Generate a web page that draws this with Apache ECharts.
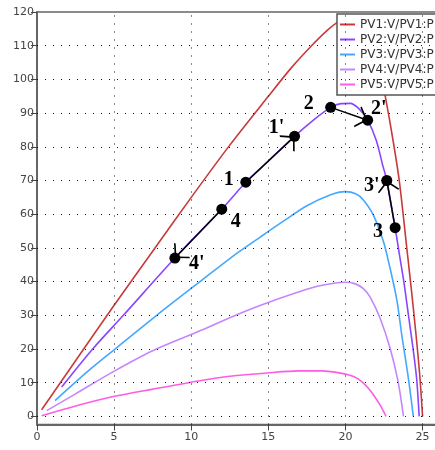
<!DOCTYPE html>
<html>
<head>
<meta charset="utf-8">
<script src="https://cdn.jsdelivr.net/npm/echarts@6/dist/echarts.min.js"></script>
<style>html,body{margin:0;padding:0;background:#fff;overflow:hidden}#c{width:470px;height:450px}</style>
</head>
<body>
<div id="c"></div>
<script>
// ---- data ----
const seriesNames = ['PV1:V/PV1:P', 'PV2:V/PV2:P', 'PV3:V/PV3:P', 'PV4:V/PV4:P', 'PV5:V/PV5:P'];
const xTicks = [0, 5, 10, 15, 20, 25];
const yTicks = [0, 10, 20, 30, 40, 50, 60, 70, 80, 90, 100, 110, 120];
const xGrid = [5, 10, 15, 20, 25];
const yGrid = [0, 10, 20, 30, 40, 50, 60, 70, 80, 90, 100, 110];

const pv1 = [[0.3,2.0],[2.5,16.5],[5.0,33.0],[7.5,49.0],[10.0,65.0],[12.5,80.5],[15.0,95.0],[16.5,103.5],[17.8,110.0],[18.8,114.5],[19.6,117.3],[20.4,118.8],[21.1,117.5],[21.7,112.0],[22.2,103.5],[22.6,94.5],[23.1,81.5],[23.5,69.5],[24.0,49.0],[24.3,36.5],[24.58,24.0],[24.82,12.0],[25.0,0]];
const pv2 = [[1.6,8.7],[3.61,20],[5.6,30],[8.94,47],[11.98,61.5],[13.54,69.5],[15.0,75.8],[16.7,83.1],[18.0,88.2],[19.04,91.7],[19.7,92.8],[20.3,92.9],[20.9,91.2],[21.44,87.9],[22.0,81.9],[22.4,74.8],[22.68,70],[23.22,56],[23.5,48],[23.8,39.5],[24.1,29.5],[24.4,19.5],[24.62,11],[24.78,0]];
const pv3 = [[1.17,4.7],[3.4,13.8],[5.06,20],[7.76,30],[10.57,40],[12.93,48.3],[14.5,53.3],[16.0,58],[17.5,62.5],[19.0,65.7],[19.97,66.7],[20.7,66.0],[21.16,64.2],[21.8,59.8],[22.46,51.9],[22.89,44.0],[23.33,34.6],[23.65,24.2],[24.08,11.3],[24.4,0]];
const pv4 = [[0.63,1.7],[2.5,6.7],[4.95,13.3],[7.5,19.5],[10.57,25.4],[12.5,29.3],[14.5,33],[17.0,37],[18.5,38.9],[19.97,39.8],[20.6,39.4],[21.14,38.0],[21.6,35.4],[22.24,29.2],[22.89,20.3],[23.41,10.4],[23.76,0]];
const pv5 = [[0.3,0.2],[2.5,3.1],[4.95,5.9],[7.5,8.1],[10.57,10.6],[12.5,11.9],[14.9,12.9],[17.0,13.5],[18.5,13.5],[19.5,13.0],[20.3,12.2],[20.8,11.2],[21.16,9.9],[21.5,8.3],[21.8,6.5],[22.24,3.4],[22.63,0]];

const markerNames = ["1", "1'", "2", "2'", "3", "3'", "4", "4'"];
const markerPoints = [[13.54,69.5],[16.7,83.1],[19.04,91.7],[21.44,87.9],[23.22,56.0],[22.68,70.0],[11.98,61.5],[8.94,47.0]];
const arrowPairs = [["1","1'"],["2","2'"],["3","3'"],["4","4'"]];

// ---- styling (kept apart from data) ----
const colors = ['#c83a3a', '#8a46ff', '#44a8ff', '#c486ff', '#ff5ce4'];
const labelOffsets = {"1":[-17,-2], "1'":[-18,-9], "2":[-22,-4], "2'":[11,-11], "3":[-17,4], "3'":[-15,5], "4":[14,13], "4'":[22,6]};
const chevron = 'path://M8,11 L16,21.2 L14.9,22.06 L8,13.25 L1.1,22.06 L0,21.2 Z M8,-0.06 L8.05,-0.06 L8,0 Z';

const allCurves = [pv1, pv2, pv3, pv4, pv5];
const ptByName = {};
markerNames.forEach((n, i) => ptByName[n] = markerPoints[i]);

const axisFont = {fontFamily: 'DejaVu Sans', fontSize: 11, color: '#444'};
const dotted = {color: '#111', width: 1, type: [1, 7]};

const series = [];
// dotted grid, drawn through the axes' scales
series.push({
  type: 'line', data: [], z: 1, silent: true,
  markLine: {
    silent: true, symbol: ['none', 'none'], label: {show: false},
    lineStyle: dotted, emphasis: {disabled: true},
    data: yGrid.map(v => ({yAxis: v})).concat(xGrid.map(v => ({xAxis: v})))
  }
});

allCurves.forEach((d, i) => series.push({
  name: seriesNames[i], type: 'line', data: d, showSymbol: false, symbol: 'none',
  smooth: 0.3, lineStyle: {color: colors[i], width: 1.6},
  itemStyle: {color: colors[i]}, z: 2
}));

series.push({
  type: 'lines', coordinateSystem: 'cartesian2d', z: 4,
  symbol: ['none', chevron], symbolSize: [16, 22.12], symbolKeepAspect: true,
  lineStyle: {color: '#000', width: 1.5, opacity: 1, curveness: 0},
  itemStyle: {color: '#000'},
  data: arrowPairs.map(p => ({coords: [ptByName[p[0]], ptByName[p[1]]]}))
});

series.push({
  type: 'scatter', z: 5, symbol: 'circle', symbolSize: 11,
  itemStyle: {color: '#000', opacity: 1},
  data: markerNames.map((n, i) => ({
    value: markerPoints[i],
    label: {show: true, formatter: n, position: 'inside', offset: labelOffsets[n],
      fontFamily: 'Liberation Serif', fontWeight: 'bold', fontSize: 20, color: '#000'}
  }))
});

const chart = echarts.init(document.getElementById('c'), null, {renderer: 'canvas'});
chart.setOption({
  animation: false,
  backgroundColor: '#fff',
  grid: {left: 37, top: 12, right: 32, bottom: 25.5, containLabel: false, show: true,
    borderColor: '#666', borderWidth: 1.5, backgroundColor: 'transparent'},
  legend: {
    orient: 'vertical', left: 337, top: 14, data: seriesNames,
    icon: 'rect', itemWidth: 15, itemHeight: 2, itemGap: 0,
    backgroundColor: '#fff', borderColor: '#555', borderWidth: 1.5, borderRadius: 0,
    padding: [3, 10, 3, 3],
    textStyle: {fontFamily: 'DejaVu Sans', fontSize: 12, color: '#333', lineHeight: 15},
    selectedMode: false
  },
  xAxis: {
    type: 'value', min: 0, max: 26,
    axisLine: {show: true, onZero: false, lineStyle: {color: '#666', width: 2}},
    axisTick: {show: true, length: 6, customValues: xTicks, lineStyle: {color: '#444', width: 1}},
    axisLabel: {customValues: xTicks, margin: 7, ...axisFont},
    splitLine: {show: false}
  },
  yAxis: {
    type: 'value', min: -2.4, max: 120,
    axisLine: {show: true, onZero: false, lineStyle: {color: '#666', width: 2}},
    axisTick: {show: true, length: 6, customValues: yTicks, lineStyle: {color: '#444', width: 1}},
    axisLabel: {customValues: yTicks, margin: 3, ...axisFont},
    splitLine: {show: false}
  },
  series: series
});
</script>
</body>
</html>
